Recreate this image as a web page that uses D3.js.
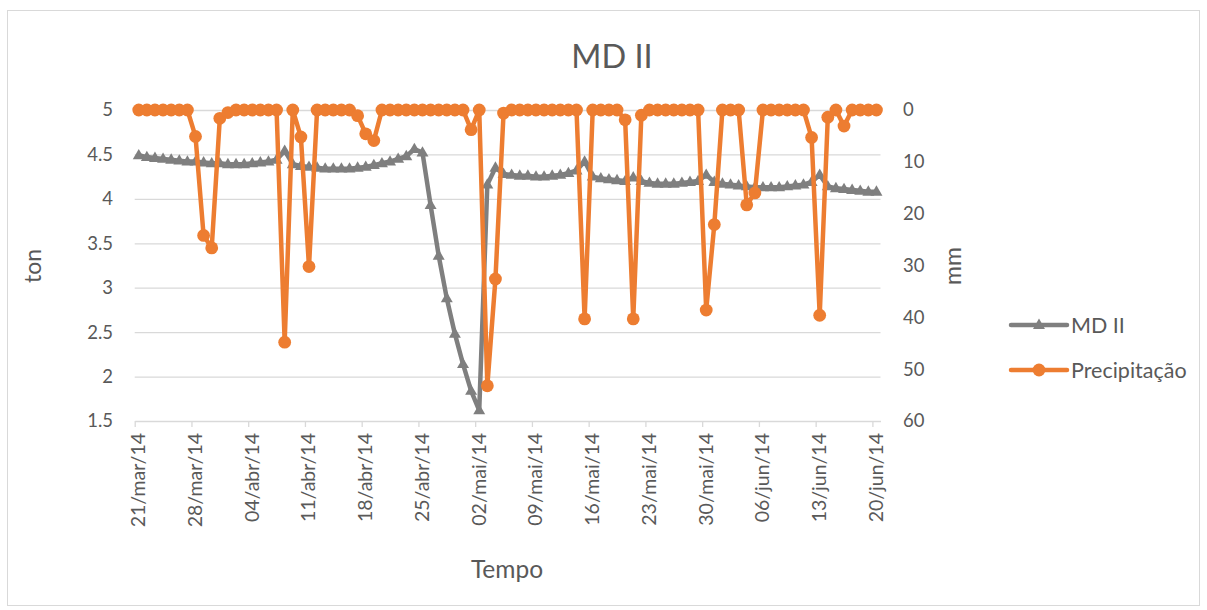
<!DOCTYPE html>
<html>
<head>
<meta charset="utf-8">
<script src="https://cdn.jsdelivr.net/npm/d3@7.9.0/dist/d3.min.js"></script>
<style>
  html, body { margin: 0; padding: 0; background: #fff; }
  svg { display: block; font-family: Lato, "Open Sans", sans-serif; }
  .grid line { stroke: #d9d9d9; stroke-width: 1.3; }
  .grid path { display: none; }
  .xaxis path, .xaxis line { stroke: #d9d9d9; stroke-width: 1.3; }
  .lab { fill: #595959; }
</style>
</head>
<body>
<div id="chart"></div>
<script>
// daily series, 21/mar/14 .. 20/jun/14
const firstDay = '2014-03-21';
const lastDay = '2014-06-20';

// MD II (ton)
const mdII = [
  4.49, 4.47, 4.46, 4.45, 4.44, 4.43, 4.42, 4.42, 4.41, 4.40,
  4.40, 4.39, 4.39, 4.39, 4.40, 4.41, 4.42, 4.44, 4.54, 4.39,
  4.37, 4.36, 4.35, 4.34, 4.34, 4.34, 4.34, 4.35, 4.36, 4.38,
  4.40, 4.42, 4.45, 4.48, 4.56, 4.52, 3.93, 3.36, 2.88, 2.48,
  2.14, 1.84, 1.62, 4.16, 4.35, 4.28, 4.27, 4.26, 4.26, 4.25,
  4.25, 4.26, 4.27, 4.29, 4.32, 4.42, 4.25, 4.23, 4.22, 4.21,
  4.20, 4.24, 4.20, 4.18, 4.17, 4.17, 4.17, 4.18, 4.19, 4.20,
  4.27, 4.19, 4.17, 4.16, 4.15, 4.14, 4.13, 4.13, 4.13, 4.13,
  4.14, 4.15, 4.16, 4.19, 4.27, 4.14, 4.12, 4.11, 4.10, 4.09,
  4.08, 4.08
];

// Precipitação (mm)
const precip = [
  0, 0, 0, 0, 0, 0, 0, 5.1, 24.2, 26.6,
  1.6, 0.5, 0, 0, 0, 0, 0, 0, 44.8, 0,
  5.2, 30.2, 0, 0, 0, 0, 0, 1.1, 4.6, 5.9,
  0, 0, 0, 0, 0, 0, 0, 0, 0, 0,
  0, 3.8, 0, 53.2, 32.6, 0.6, 0, 0, 0, 0,
  0, 0, 0, 0, 0, 40.3, 0, 0, 0, 0,
  1.9, 40.3, 1.0, 0, 0, 0, 0, 0, 0, 0,
  38.6, 22.1, 0, 0, 0, 18.3, 16.0, 0, 0, 0,
  0, 0, 0, 5.3, 39.6, 1.4, 0, 3.1, 0, 0,
  0, 0
];

const xTickLabels = ['21/mar/14', '28/mar/14', '04/abr/14', '11/abr/14', '18/abr/14',
  '25/abr/14', '02/mai/14', '09/mai/14', '16/mai/14', '23/mai/14', '30/mai/14',
  '06/jun/14', '13/jun/14', '20/jun/14'];
const tonTicks = [1.5, 2, 2.5, 3, 3.5, 4, 4.5, 5];
const mmTicks = [0, 10, 20, 30, 40, 50, 60];

const months = { jan: 0, fev: 1, mar: 2, abr: 3, mai: 4, jun: 5, jul: 6, ago: 7, set: 8, out: 9, nov: 10, dez: 11 };
function parseLabel(s) {
  const [d, m, y] = s.split('/');
  return new Date(2000 + +y, months[m], +d);
}

const parseDay = d3.timeParse('%Y-%m-%d');
const days = d3.timeDay.range(parseDay(firstDay), d3.timeDay.offset(parseDay(lastDay), 1));
const mid = d => d3.timeHour.offset(d, 12);

const width = 1207, height = 610;
const plot = { left: 134.7, right: 880.5, top: 110, bottom: 421 };

const svg = d3.select('#chart').append('svg')
  .attr('width', width).attr('height', height);

svg.append('rect')
  .attr('x', 7.5).attr('y', 10.5).attr('width', 1192).attr('height', 595)
  .attr('fill', '#fff').attr('stroke', '#d9d9d9').attr('stroke-width', 1);

const x = d3.scaleTime()
  .domain([days[0], d3.timeDay.offset(days[days.length - 1], 1)])
  .range([plot.left, plot.right]);
const yTon = d3.scaleLinear().domain([1.5, 5]).range([plot.bottom, plot.top]);
const yMm = d3.scaleLinear().domain([0, 60]).range([plot.top, plot.bottom]);

// gridlines
svg.append('g')
  .attr('class', 'grid')
  .attr('transform', `translate(${plot.left},0)`)
  .call(d3.axisLeft(yTon).tickValues(tonTicks.slice(1)).tickFormat('').tickSize(-(plot.right - plot.left)));

// x axis
const tickDates = xTickLabels.map(parseLabel);
svg.append('g')
  .attr('class', 'xaxis')
  .attr('transform', `translate(0,${plot.bottom})`)
  .call(d3.axisBottom(x).tickValues(tickDates).tickFormat('').tickSize(6).tickSizeOuter(0));

svg.append('g').selectAll('text')
  .data(xTickLabels)
  .join('text')
  .attr('class', 'lab')
  .attr('transform', d => `translate(${x(mid(parseLabel(d))) + 6.5},433) rotate(-90)`)
  .attr('text-anchor', 'end')
  .style('font-size', '19.5px')
  .text(d => d);

// left axis labels
svg.append('g').selectAll('text')
  .data(tonTicks)
  .join('text')
  .attr('class', 'lab')
  .attr('x', 113)
  .attr('y', d => yTon(d))
  .attr('dy', '0.35em')
  .attr('text-anchor', 'end')
  .style('font-size', '18.5px')
  .text(d => d3.format('~g')(d));

// right axis labels
svg.append('g').selectAll('text')
  .data(mmTicks)
  .join('text')
  .attr('class', 'lab')
  .attr('x', 903)
  .attr('y', d => yMm(d))
  .attr('dy', '0.35em')
  .attr('text-anchor', 'start')
  .style('font-size', '18.5px')
  .text(d => d);

// titles
svg.append('text').attr('class', 'lab')
  .attr('x', 612).attr('y', 68).attr('text-anchor', 'middle')
  .style('font-size', '32.5px').text('MD II');
svg.append('text').attr('class', 'lab')
  .attr('transform', 'translate(41,266) rotate(-90)').attr('text-anchor', 'middle')
  .style('font-size', '23px').text('ton');
svg.append('text').attr('class', 'lab')
  .attr('transform', 'translate(961,266) rotate(-90)').attr('text-anchor', 'middle')
  .style('font-size', '23px').text('mm');
svg.append('text').attr('class', 'lab')
  .attr('x', 507).attr('y', 578).attr('text-anchor', 'middle')
  .style('font-size', '24.5px').text('Tempo');

const gray = '#7f7f7f', orange = '#ed7d31';
const triangle = d3.symbol().type(d3.symbolTriangle).size(62);

// MD II series
const mdData = days.map((d, i) => ({ date: d, v: mdII[i] }));
svg.append('path')
  .datum(mdData)
  .attr('fill', 'none').attr('stroke', gray).attr('stroke-width', 4.5)
  .attr('stroke-linejoin', 'round')
  .attr('d', d3.line().x(d => x(mid(d.date))).y(d => yTon(d.v)));
svg.append('g').selectAll('path')
  .data(mdData)
  .join('path')
  .attr('transform', d => `translate(${x(mid(d.date))},${yTon(d.v) + 0.5})`)
  .attr('d', triangle)
  .attr('fill', gray);

// Precipitação series
const prData = days.map((d, i) => ({ date: d, v: precip[i] }));
svg.append('path')
  .datum(prData)
  .attr('fill', 'none').attr('stroke', orange).attr('stroke-width', 4.5)
  .attr('stroke-linejoin', 'round')
  .attr('d', d3.line().x(d => x(mid(d.date))).y(d => yMm(d.v)));
svg.append('g').selectAll('circle')
  .data(prData)
  .join('circle')
  .attr('cx', d => x(mid(d.date)))
  .attr('cy', d => yMm(d.v))
  .attr('r', 6.4)
  .attr('fill', orange);

// legend
const legend = [
  { name: 'MD II', color: gray, y: 325, marker: 'tri' },
  { name: 'Precipitação', color: orange, y: 370, marker: 'circle' }
];
const lg = svg.append('g').selectAll('g').data(legend).join('g')
  .attr('transform', d => `translate(0,${d.y})`);
lg.append('line')
  .attr('x1', 1011).attr('x2', 1067)
  .attr('stroke', d => d.color).attr('stroke-width', 4.5).attr('stroke-linecap', 'round');
lg.filter(d => d.marker === 'tri').append('path')
  .attr('transform', 'translate(1039,0.5)').attr('d', triangle).attr('fill', gray);
lg.filter(d => d.marker === 'circle').append('circle')
  .attr('cx', 1039).attr('r', 6.4).attr('fill', orange);
lg.append('text').attr('class', 'lab')
  .attr('x', 1071).attr('dy', '0.35em')
  .style('font-size', '21.5px')
  .text(d => d.name);
</script>
</body>
</html>
